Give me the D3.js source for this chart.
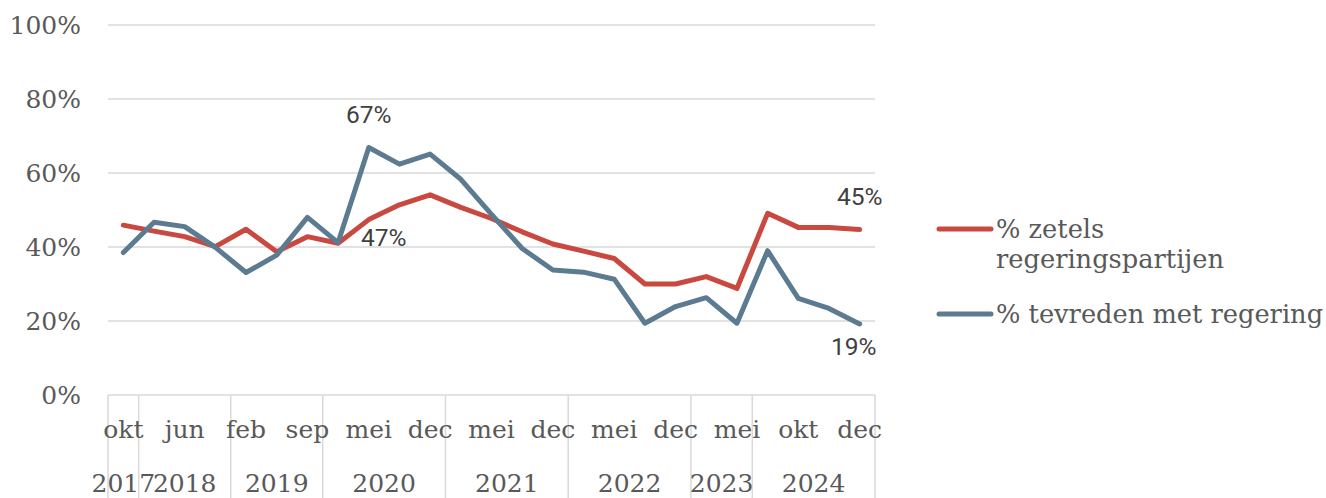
<!DOCTYPE html>
<html>
<head>
<meta charset="utf-8">
<script src="https://cdn.jsdelivr.net/npm/d3@7"></script>
<style>
  body { margin: 0; background: #fff; }
  svg { display: block; }
</style>
</head>
<body>
<svg id="chart" width="1326" height="498"></svg>
<script>
// Month labels (only every other one is printed on the axis)
var months = ["okt", "", "jun", "", "feb", "", "sep", "", "mei", "", "dec", "", "mei", "",
              "dec", "", "mei", "", "dec", "", "mei", "", "okt", "", "dec"];

// Year groups and how many points fall in each
var years      = ["2017", "2018", "2019", "2020", "2021", "2022", "2023", "2024"];
var yearCounts = [1, 3, 3, 4, 4, 4, 2, 4];

var zetels = [45.9, 44.3, 42.8, 40.1, 44.8, 38.7, 42.8, 41.0, 47.4, 51.4, 54.1, 50.7, 47.7,
              44.1, 40.8, 38.9, 36.9, 30.0, 30.0, 32.0, 28.8, 49.1, 45.3, 45.3, 44.7];
var tevreden = [38.5, 46.7, 45.5, 39.9, 33.1, 37.8, 48.0, 41.2, 66.9, 62.4, 65.1, 58.3, 48.8,
                39.6, 33.8, 33.2, 31.3, 19.4, 23.9, 26.3, 19.4, 39.0, 26.1, 23.4, 19.2];

var yTicks = [0, 20, 40, 60, 80, 100];

var seriesNames = ["% zetels regeringspartijen", "% tevreden met regering"];
var RED  = "#C9483F";
var BLUE = "#5C7B91";
var TEXT = "#595959";
var GRID = "#D9D9D9";

var SERIF = "'DejaVu Serif', serif";
var SANS  = "Roboto, 'Open Sans', sans-serif";

var svg = d3.select("#chart");

var x = d3.scaleBand()
  .domain(d3.range(months.length))
  .range([108, 875])
  .padding(0);

var y = d3.scaleLinear()
  .domain([0, 100])
  .range([395, 25]);

function cx(i) {
  return x(i) + x.bandwidth() / 2;
}

// Gridlines
svg.append("g")
  .selectAll("line")
  .data(yTicks.filter(function (d) { return d > 0; }))
  .enter().append("line")
  .attr("x1", 108)
  .attr("x2", 875)
  .attr("y1", function (d) { return y(d); })
  .attr("y2", function (d) { return y(d); })
  .attr("stroke", GRID)
  .attr("stroke-width", 1.5);

// Y axis labels
var yAxis = d3.axisLeft(y)
  .tickValues(yTicks)
  .tickSize(0)
  .tickPadding(0)
  .tickFormat(function (d) { return d + "%"; });

var yg = svg.append("g")
  .attr("transform", "translate(81,0)")
  .call(yAxis);

yg.select(".domain").remove();
yg.selectAll("text")
  .attr("fill", TEXT)
  .attr("font-family", SERIF)
  .attr("font-size", 25)
  .attr("dy", "0.35em");

// X axis line
svg.append("line")
  .attr("x1", 108)
  .attr("x2", 875)
  .attr("y1", y(0))
  .attr("y2", y(0))
  .attr("stroke", GRID)
  .attr("stroke-width", 1.5);

// Year group boundaries
var bounds = [0];
yearCounts.forEach(function (n, i) {
  bounds.push(bounds[i] + n);
});

svg.append("g")
  .selectAll("line")
  .data(bounds)
  .enter().append("line")
  .attr("x1", function (d) { return d < months.length ? x(d) : x.range()[1]; })
  .attr("x2", function (d) { return d < months.length ? x(d) : x.range()[1]; })
  .attr("y1", y(0))
  .attr("y2", 498)
  .attr("stroke", GRID)
  .attr("stroke-width", 1.5);

// Month labels
svg.append("g")
  .selectAll("text")
  .data(months)
  .enter().append("text")
  .attr("x", function (d, i) { return cx(i); })
  .attr("y", 438)
  .attr("text-anchor", "middle")
  .attr("font-family", SERIF)
  .attr("font-size", 25)
  .attr("fill", TEXT)
  .text(function (d) { return d; });

// Year labels, centered in their group
svg.append("g")
  .selectAll("text")
  .data(years)
  .enter().append("text")
  .attr("x", function (d, i) {
    var a = x(bounds[i]);
    var b = bounds[i + 1] < months.length ? x(bounds[i + 1]) : x.range()[1];
    return (a + b) / 2;
  })
  .attr("y", 492)
  .attr("text-anchor", "middle")
  .attr("font-family", SERIF)
  .attr("font-size", 25)
  .attr("fill", TEXT)
  .text(function (d) { return d; });

// Lines
var line = d3.line()
  .x(function (d, i) { return cx(i); })
  .y(function (d) { return y(d); });

[[zetels, RED], [tevreden, BLUE]].forEach(function (s) {
  svg.append("path")
    .datum(s[0])
    .attr("d", line)
    .attr("fill", "none")
    .attr("stroke", s[1])
    .attr("stroke-width", 5)
    .attr("stroke-linejoin", "round")
    .attr("stroke-linecap", "round");
});

// Data labels: [series, index, dx, dy]
var last = months.length - 1;
var labels = [
  [tevreden, 8, 0, -24],
  [zetels, 8, 15, 26],
  [zetels, last, 0, -25],
  [tevreden, last, -6, 31]
];

svg.append("g")
  .selectAll("text")
  .data(labels)
  .enter().append("text")
  .attr("x", function (d) { return cx(d[1]) + d[2]; })
  .attr("y", function (d) { return y(d[0][d[1]]) + d[3]; })
  .attr("text-anchor", "middle")
  .attr("font-family", SANS)
  .attr("font-size", 24.5)
  .attr("fill", "#404040")
  .text(function (d) { return Math.round(d[0][d[1]]) + "%"; });

// Legend
var legend = svg.append("g")
  .attr("font-family", SERIF)
  .attr("font-size", 25.7)
  .attr("fill", TEXT);

legend.append("line")
  .attr("x1", 939).attr("x2", 991)
  .attr("y1", 229).attr("y2", 229)
  .attr("stroke", RED).attr("stroke-width", 5).attr("stroke-linecap", "round");

legend.append("text")
  .attr("x", 996).attr("y", 238)
  .text("% zetels");

legend.append("text")
  .attr("x", 996).attr("y", 268)
  .text("regeringspartijen");

legend.append("line")
  .attr("x1", 939).attr("x2", 991)
  .attr("y1", 314).attr("y2", 314)
  .attr("stroke", BLUE).attr("stroke-width", 5).attr("stroke-linecap", "round");

legend.append("text")
  .attr("x", 996).attr("y", 323)
  .text(seriesNames[1]);
</script>
</body>
</html>
